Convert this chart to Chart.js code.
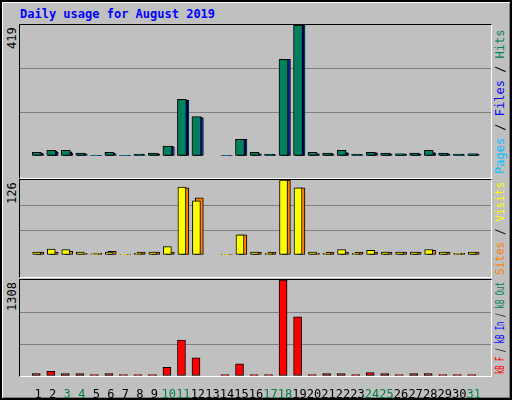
<!DOCTYPE html>
<html><head><meta charset="utf-8">
<script src="https://cdn.jsdelivr.net/npm/chart.js@4"></script>
<style>
body{margin:0;background:#fff}
#wrap{position:absolute;left:0;top:0;width:508px;height:396px;background:#c0c0c0;border:2px solid #000;box-shadow:inset 1px 1px 0 #fff,inset -1px -1px 0 #808080;font-family:"DejaVu Sans Mono",monospace}
.frame{position:absolute;border-top:1px solid #000;border-left:1px solid #000;border-bottom:1px solid #fff;border-right:1px solid #fff;box-sizing:border-box}
.c{position:absolute}
.lab{position:absolute;font-size:12px;white-space:nowrap;transform-origin:0 0}
#title{position:absolute;left:18px;top:5px;color:#0000ff;font-weight:bold;font-size:12px}
</style></head><body>
<div id="wrap">
<div id="title">Daily usage for August 2019</div>
</div>
<script>
const days=[1,2,3,4,5,6,7,8,9,10,11,12,13,14,15,16,17,18,19,20,21,22,23,24,25,26,27,28,29,30,31];
const weekend=[3,4,10,11,17,18,24,25,31];
const hits=[12,18,18,9,2,12,2,6,9,32,181,126,0,2,53,12,6,309,419,12,9,18,6,12,9,7,9,18,9,6,7];
const files=[9,16,13,8,2,9,2,5,8,31,179,124,0,2,53,8,5,309,419,8,8,11,5,11,8,7,8,11,8,5,7];
const pages=[6,12,9,6,2,6,2,4,6,28,178,121,0,2,53,6,4,309,419,6,6,9,4,9,6,6,6,9,6,4,6];
const visits=[5,10,9,5,2,5,1,3,5,14,114,91,0,1,34,5,3,126,113,5,3,9,3,8,5,5,5,9,5,3,5];
const sites=[5,5,6,3,3,6,1,5,5,5,113,96,0,1,34,5,5,126,113,3,5,5,5,5,5,5,5,8,5,3,5];
const kbf=[33,62,33,33,19,33,19,19,19,119,491,248,0,19,167,19,19,1308,806,19,33,33,19,48,33,19,33,33,19,19,19];

const wrap=document.getElementById('wrap');
function el(tag,cls,style,html){const e=document.createElement(tag);if(cls)e.className=cls;Object.assign(e.style,style);if(html)e.innerHTML=html;wrap.appendChild(e);return e;}
const panels=[[23,153],[178,97],[278,96]];
const X0=18,W=471;
function mk(i,sets,max,withX){
  const [t,h]=panels[i];
  el('div','frame',{left:(X0-1)+'px',top:(t-1)+'px',width:(W+2)+'px',height:(h+2)+'px'});
  const H=h+(withX?22:0);
  const cv=el('canvas','c',{left:X0+'px',top:t+'px',width:W+'px',height:H+'px'});
  cv.width=W;cv.height=H;
  new Chart(cv,{type:'bar',data:{datasets:sets.map(s=>({data:days.map((d,k)=>({x:d+s.off,y:s.v[k]})),backgroundColor:s.c,borderColor:'#000',borderWidth:1,borderSkipped:false,barThickness:s.w,grouped:false}))},
   options:{responsive:false,animation:false,devicePixelRatio:1,layout:{padding:0},plugins:{legend:{display:false},tooltip:{enabled:false}},
   scales:{x:{type:'linear',min:0.27,max:31.67,display:withX,grid:{display:false},border:{display:false},
     afterBuildTicks:a=>{a.ticks=days.map(d=>({value:d}));},afterFit:a=>{a.height=22;},
     ticks:{autoSkip:false,maxRotation:0,padding:4,font:{family:'DejaVu Sans Mono',size:12},color:c=>weekend.includes(c.tick.value)?'#008040':'#000',callback:v=>String(v)}},
    y:{min:0,max:max,display:true,border:{display:false},afterFit:a=>{a.width=0;},
     afterBuildTicks:a=>{a.ticks=[0,max/3,2*max/3,max].map(v=>({value:v}));},
     ticks:{display:false},grid:{drawTicks:false,color:c=>(c.index==1||c.index==2)?'#808080':'rgba(0,0,0,0)'}}}}});
}
mk(0,[{v:hits,c:'#00805c',off:-0.1,w:9},{v:files,c:'#0000ff',off:0,w:9},{v:pages,c:'#00c0ff',off:0.07,w:9}],419,false);
mk(1,[{v:visits,c:'#ffff00',off:-0.1,w:8},{v:sites,c:'#ff8000',off:0.1,w:8}],126,false);
mk(2,[{v:kbf,c:'#ff0000',off:-0.13,w:8}],1308,true);
[['419',23],['126',178],['1308',278]].forEach(([s,t])=>{const w=s.length*7.22;el('div','lab',{left:'3px',top:(t+w+2)+'px',color:'#000',transform:'rotate(-90deg)'},s);});
const legs=[[[['Pages','#00c0ff'],[' / ','#000'],['Files','#0000ff'],[' / ','#000'],['Hits','#00805c']],23,153],
 [[['Sites','#ff8000'],[' / ','#000'],['Visits','#ffff00']],178,97],
 [[['kB F','#ff0000'],[' / ','#000'],['kB In','#0000ff'],[' / ','#000'],['kB Out','#00805c']],278,96]];
legs.forEach(([parts,t,h])=>{
 const d=el('div','lab',{left:'491px',top:'0px'},parts.map(p=>`<span style="color:${p[1]}">${p[0].replace(/ /g,'&nbsp;')}</span>`).join(''));
 const w=d.offsetWidth;const k=Math.min(1,(h-4)/w);const sw=w*k;
 d.style.top=(t+h/2+sw/2)+'px';
 d.style.transform=`rotate(-90deg) scaleX(${k})`;});
</script>
</body></html>
